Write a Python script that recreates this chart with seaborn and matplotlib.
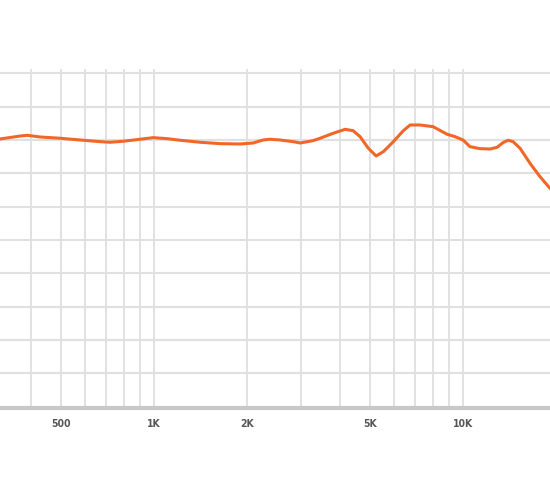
import numpy as np
import pandas as pd
import matplotlib
matplotlib.use("Agg")
import matplotlib.pyplot as plt
import seaborn as sns

# frequency response (Hz, dB)
freqs = [318, 370, 390, 429, 498, 578, 671, 722, 796, 903, 995, 1104, 1216,
         1411, 1638, 1901, 2095, 2256, 2377, 2561, 2821, 2972, 3273, 3449,
         3800, 4155, 4410, 4645, 4940, 5233, 5525, 5953, 6412, 6740, 7260,
         8000, 8878, 9420, 10000, 10530, 11350, 12230, 12880, 13470, 13980,
         14510, 15290, 16470, 17740, 19110]
spl = [80.15, 80.6, 80.7, 80.45, 80.26, 80.0, 79.75, 79.66, 79.81, 80.11,
       80.35, 80.2, 79.96, 79.66, 79.45, 79.4, 79.55, 80.0, 80.11, 80.0,
       79.75, 79.55, 79.9, 80.26, 81.0, 81.6, 81.4, 80.5, 78.76, 77.6, 78.25,
       79.75, 81.4, 82.25, 82.25, 82.0, 80.86, 80.5, 80.0, 79.0, 78.7, 78.65,
       78.9, 79.6, 79.96, 79.75, 78.76, 76.5, 74.5, 72.75]

grid_freqs = [400, 500, 600, 700, 800, 900, 1000, 2000, 3000, 4000, 5000,
              6000, 7000, 8000, 9000, 10000]
label_freqs = [500, 1000, 2000, 5000, 10000]
label_texts = ["500", "1K", "2K", "5K", "10K"]
grid_db = [45, 50, 55, 60, 65, 70, 75, 80, 85, 90]

df = pd.DataFrame({"freq": freqs, "spl": spl})

sns.set_style("white")
fig = plt.figure(figsize=(5.5, 4.82), dpi=100)
ax = fig.add_axes([0, 74 / 482, 1, 339 / 482])

ax.set_xscale("log")
ax.set_xlim(318, 19110)
ax.set_ylim(39.8, 39.8 + 339 / 6.667)

for f in grid_freqs:
    ax.axvline(f, color="#dadada", lw=1.1, zorder=1)
for d in grid_db:
    ax.axhline(d, color="#e0e0e0", lw=1.5, zorder=1)

line = sns.lineplot(data=df, x="freq", y="spl", color="#f26628", lw=2.2,
                    ax=ax, zorder=3)
for ln in ax.get_lines()[-1:]:
    ln.set_solid_joinstyle("round")
    ln.set_solid_capstyle("round")

ax.set_xticks(label_freqs)
ax.set_xticklabels(label_texts)
ax.xaxis.set_minor_locator(matplotlib.ticker.NullLocator())
ax.set_yticks([])
ax.tick_params(axis="x", length=0, pad=8, colors="#555555", labelsize=7.5)
for t in ax.get_xticklabels():
    t.set_fontweight("bold")
    t.set_fontstretch("condensed")
ax.set_xlabel("")
ax.set_ylabel("")

for s in ["top", "left", "right"]:
    ax.spines[s].set_visible(False)
ax.spines["bottom"].set_color("#c8c8c8")
ax.spines["bottom"].set_linewidth(3)

fig.savefig("out.png", dpi=100)
